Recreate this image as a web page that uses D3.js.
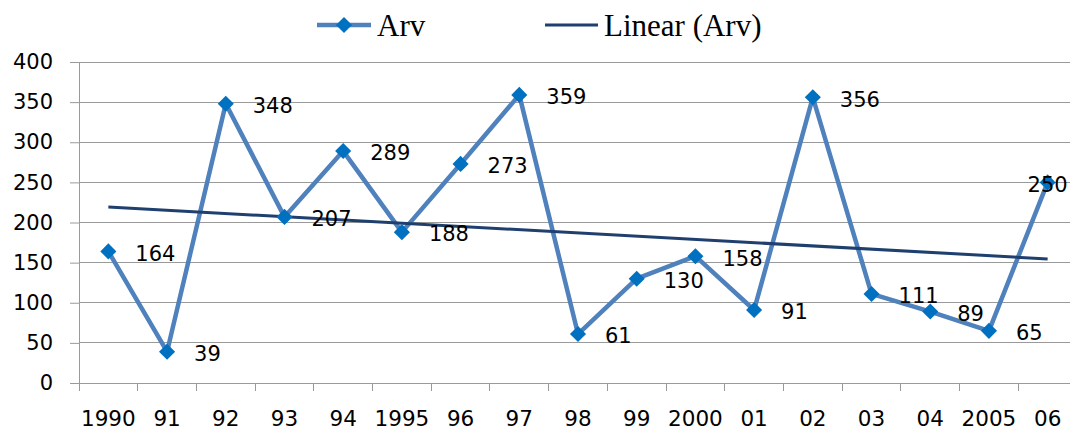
<!DOCTYPE html>
<html>
<head>
<meta charset="utf-8">
<script src="https://cdn.jsdelivr.net/npm/d3@7"></script>
<style>
  body { margin: 0; background: #fff; }
  svg { display: block; }
</style>
</head>
<body>
<div id="chart"></div>
<script>
// data
var years = ['1990','91','92','93','94','1995','96','97','98','99','2000','01','02','03','04','2005','06'];
var arv = [164, 39, 348, 207, 289, 188, 273, 359, 61, 130, 158, 91, 356, 111, 89, 65, 250];
var yTicks = [0, 50, 100, 150, 200, 250, 300, 350, 400];

var W = 1070, H = 433;
var margin = { top: 62, right: -7, bottom: 50, left: 79 },
    width = W - margin.left - margin.right,
    height = H - margin.top - margin.bottom;

var svg = d3.select('#chart').append('svg')
    .attr('width', W)
    .attr('height', H);

var g = svg.append('g')
    .attr('transform', 'translate(' + margin.left + ',' + margin.top + ')');

var x = d3.scaleBand().domain(years).range([0, width]).padding(0);
var y = d3.scaleLinear().domain([0, 400]).range([height, 0]);
var cx = function(d, i) { return x(years[i]) + x.bandwidth() / 2; };

var gridColor = '#9a9a9a';
var font = 'DejaVu Sans, Verdana, sans-serif';

// horizontal gridlines
g.selectAll('.grid')
    .data(yTicks.slice(1))
    .enter().append('line')
    .attr('x1', 0).attr('x2', width)
    .attr('y1', d => y(d)).attr('y2', d => y(d))
    .attr('stroke', gridColor).attr('stroke-width', 1)
    .attr('shape-rendering', 'crispEdges');

// y axis
var yAxis = g.append('g')
    .call(d3.axisLeft(y).tickValues(yTicks).tickSize(9).tickPadding(17));
yAxis.select('.domain').attr('stroke', gridColor);
yAxis.selectAll('.tick line').attr('stroke', gridColor);
yAxis.selectAll('text')
    .attr('fill', '#000')
    .style('font-family', font)
    .style('font-size', '21px');

// x axis: ticks sit between categories
var xAxis = g.append('g')
    .attr('transform', 'translate(0,' + height + ')')
    .call(d3.axisBottom(x).tickSize(0).tickPadding(28));
xAxis.select('.domain').attr('stroke', gridColor);
xAxis.selectAll('text')
    .attr('fill', '#000')
    .style('font-family', font)
    .style('font-size', '21.5px');
xAxis.selectAll('.sep')
    .data(years)
    .enter().append('line')
    .attr('x1', d => x(d)).attr('x2', d => x(d))
    .attr('y1', 0).attr('y2', 8)
    .attr('stroke', gridColor)
    .attr('shape-rendering', 'crispEdges');

// linear trend (least squares)
var n = arv.length;
var mx = d3.mean(arv, (d, i) => i), my = d3.mean(arv);
var sxy = d3.sum(arv, (d, i) => (i - mx) * (d - my));
var sxx = d3.sum(arv, (d, i) => (i - mx) * (i - mx));
var slope = sxy / sxx, icpt = my - slope * mx;
var trend = [0, n - 1].map(i => [x(years[i]) + x.bandwidth() / 2, y(icpt + slope * i)]);

// data line
var line = d3.line()
    .x((d, i) => cx(d, i))
    .y(d => y(d));
g.append('path')
    .datum(arv)
    .attr('d', line)
    .attr('fill', 'none')
    .attr('stroke', '#4f81bd')
    .attr('stroke-width', 4.5)
    .attr('stroke-linejoin', 'round');

g.append('path')
    .datum(trend)
    .attr('d', d3.line())
    .attr('fill', 'none')
    .attr('stroke', '#1f3f6e')
    .attr('stroke-width', 3);

// markers
var diamond = d3.symbol().type(d3.symbolDiamond2).size(165);
g.selectAll('.pt')
    .data(arv)
    .enter().append('path')
    .attr('d', diamond)
    .attr('transform', (d, i) => 'translate(' + cx(d, i) + ',' + y(d) + ')')
    .attr('fill', '#0070c0');

// data labels
g.selectAll('.lbl')
    .data(arv)
    .enter().append('text')
    .attr('x', (d, i) => i == n - 1 ? cx(d, i) : cx(d, i) + 27)
    .attr('y', d => y(d) + 2)
    .attr('dy', '0.35em')
    .attr('text-anchor', (d, i) => i == n - 1 ? 'middle' : 'start')
    .style('font-family', font)
    .style('font-size', '21px')
    .attr('fill', '#000')
    .text(d => d);

// legend
var leg = svg.append('g').attr('transform', 'translate(0,25)');
leg.append('line')
    .attr('x1', 317).attr('x2', 371).attr('y1', 0).attr('y2', 0)
    .attr('stroke', '#4f81bd').attr('stroke-width', 4.5);
leg.append('path')
    .attr('d', diamond)
    .attr('transform', 'translate(344,0)')
    .attr('fill', '#0070c0');
leg.append('text')
    .attr('x', 377).attr('y', 11)
    .style('font-family', 'Liberation Serif, Times New Roman, serif')
    .style('font-size', '31px')
    .text('Arv');
leg.append('line')
    .attr('x1', 545).attr('x2', 598).attr('y1', 0).attr('y2', 0)
    .attr('stroke', '#1f3f6e').attr('stroke-width', 3);
leg.append('text')
    .attr('x', 604).attr('y', 11)
    .style('font-family', 'Liberation Serif, Times New Roman, serif')
    .style('font-size', '31px')
    .text('Linear (Arv)');
</script>
</body>
</html>
